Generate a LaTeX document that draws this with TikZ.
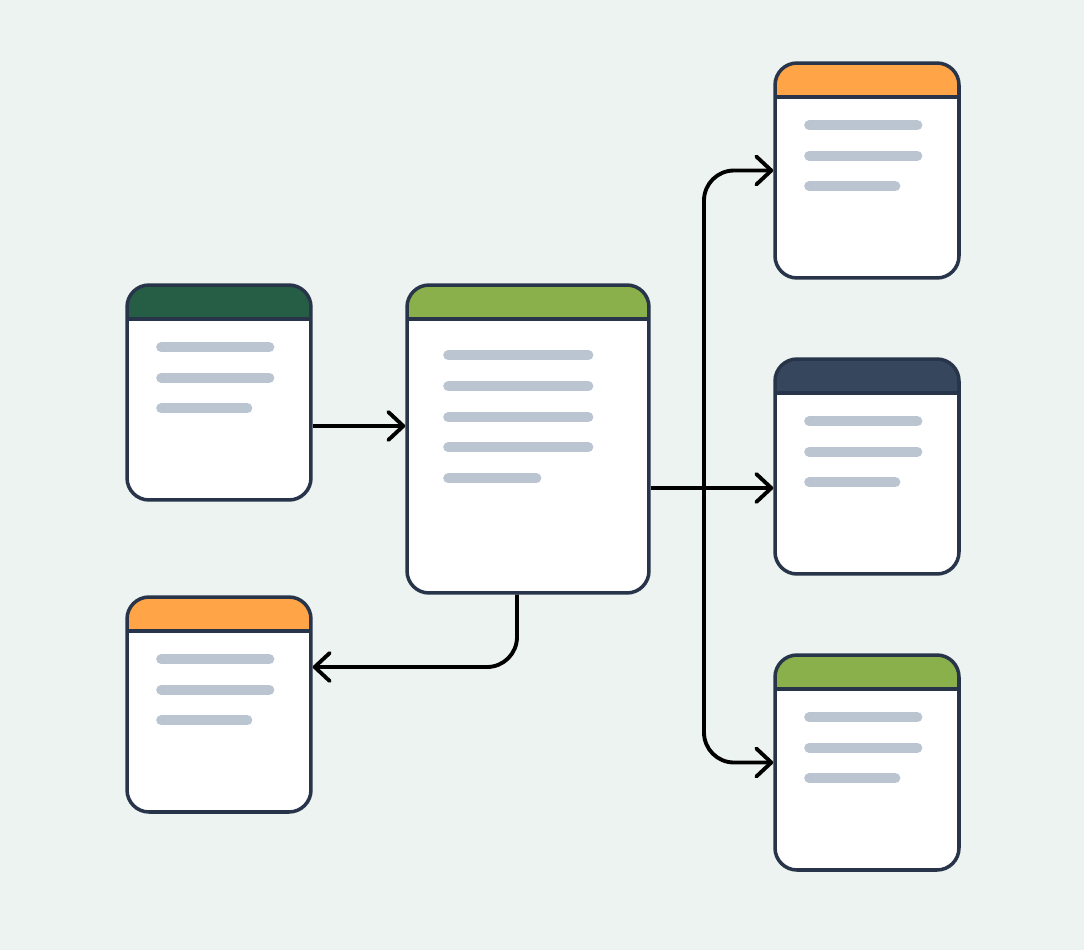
\documentclass[tikz,border=0pt]{standalone}
\usetikzlibrary{arrows.meta}
\definecolor{canvas}{HTML}{EDF3F0}
\definecolor{edge}{HTML}{28344A}
\definecolor{barcol}{HTML}{BBC5D1}
\definecolor{pine}{HTML}{265E45}
\definecolor{leaf}{HTML}{8AB04B}
\definecolor{amber}{HTML}{FFA447}
\definecolor{slate}{HTML}{36475D}
\tikzset{
  card/.style={draw=edge, fill=white, line width=2pt, rounded corners=0.44cm,
    minimum width=3.68cm, minimum height=4.3cm, inner sep=0pt,
    path picture={
      \fill[#1, sharp corners] (path picture bounding box.north west) rectangle
        ([yshift=-0.68cm]path picture bounding box.north east);
      \draw[edge, line width=2pt, sharp corners] ([yshift=-0.68cm]path picture bounding box.north west) --
        ([yshift=-0.68cm]path picture bounding box.north east);
    }},
  bigcard/.style={card=#1, minimum width=4.84cm, minimum height=6.16cm},
  bar/.style={barcol, line width=5.8pt, line cap=round},
  link/.style={draw=black, line width=2.2pt, line join=round,
    -{Straight Barb[length=0.3cm, width=0.56cm, line cap=round, line join=round]}}
}
\begin{document}
\begin{tikzpicture}[x=0.02cm, y=-0.02cm]
        % Background
        \fill[canvas] (0,0) rectangle (1084,950);

        % Cards
        \node[card=pine] (users) at (219,392.5) {};
        \node[bigcard=leaf] (orders) at (528,439) {};
        \node[card=amber] (payments) at (219,704.5) {};
        \node[card=amber] (items) at (867,170.5) {};
        \node[card=slate] (shipping) at (867,466.5) {};
        \node[card=leaf] (invoices) at (867,762.5) {};

        % Placeholder lines of the small cards
        \foreach \c in {users, payments, items, shipping, invoices}{
          \draw[bar] ([shift={(36,64)}]\c.north west) -- ++(108,0);
          \draw[bar] ([shift={(36,94.5)}]\c.north west) -- ++(108,0);
          \draw[bar] ([shift={(36,125)}]\c.north west) -- ++(86,0);
        }
        % Placeholder lines of the big card
        \foreach \y in {72,103,134,164}
          \draw[bar] ([shift={(43,\y)}]orders.north west) -- ++(140,0);
        \draw[bar] ([shift={(43,195)}]orders.north west) -- ++(88,0);

        % Connectors
        \coordinate (in) at ([yshift=-0.67cm]users.east);
        \draw[link] (in) -- (in -| orders.west);

        \coordinate (out) at ([yshift=-0.98cm]orders.east);
        \coordinate (trunk) at (704,488);
        \draw[link] (out) -- (out -| shipping.west);
        \draw[link, rounded corners=0.6cm] (trunk) |- (items.west);
        \draw[link, rounded corners=0.6cm] (trunk) |- (invoices.west);

        \coordinate (down) at ([xshift=-0.22cm]orders.south);
        \coordinate (back) at ([yshift=0.75cm]payments.east);
        \draw[link, rounded corners=0.6cm] (down) |- (back);
    \end{tikzpicture}
\end{document}
